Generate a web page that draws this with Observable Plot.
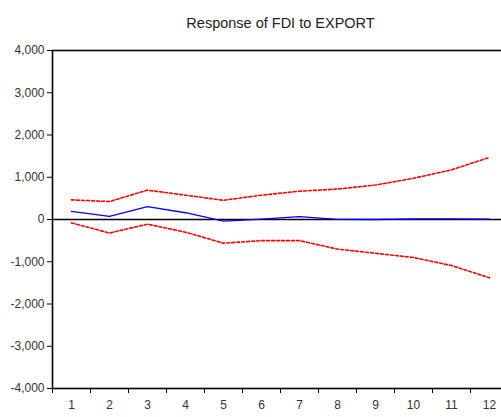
<!DOCTYPE html>
<html>
<head>
<meta charset="utf-8">
<script src="https://cdn.jsdelivr.net/npm/d3@7"></script>
<script src="https://cdn.jsdelivr.net/npm/@observablehq/plot@0.6"></script>
<style>
  html, body { margin: 0; padding: 0; background: #fff; overflow: hidden; }
  #chart svg { display: block; max-width: none !important; }
</style>
</head>
<body>
<div id="chart"></div>
<script>
// Impulse response of FDI to a shock in EXPORT, with ±2 S.E. bands
const periods = [1, 2, 3, 4, 5, 6, 7, 8, 9, 10, 11, 12];
const response = [190, 75, 305, 160, -40, 10, 70, 5, 0, 15, 15, 10];
const upperBand = [465, 425, 695, 575, 455, 575, 670, 720, 815, 975, 1175, 1470];
const lowerBand = [-80, -320, -110, -300, -560, -500, -500, -700, -800, -900, -1090, -1380];
const yTicks = [-4000, -3000, -2000, -1000, 0, 1000, 2000, 3000, 4000];
const titleText = "Response of FDI to EXPORT";

const rows = periods.map((p, i) => ({
  period: p,
  response: response[i],
  upper: upperBand[i],
  lower: lowerBand[i]
}));

const tickColor = "#333";
const font = "Liberation Sans, Arial, sans-serif";

const chart = Plot.plot({
  width: 509,
  height: 417,
  marginLeft: 52,
  marginRight: 1,
  marginTop: 50,
  marginBottom: 29,
  style: { fontFamily: font, fontSize: "12px", color: tickColor, background: "#fff" },
  x: { domain: [0.5, 12.5] },
  y: { domain: [-4000, 4000] },
  marks: [
    Plot.ruleY([0], { stroke: "#000", strokeWidth: 1.6 }),
    Plot.line(rows, { x: "period", y: "upper", stroke: "#ff0000", strokeWidth: 1.6, strokeDasharray: "3,2" }),
    Plot.line(rows, { x: "period", y: "lower", stroke: "#ff0000", strokeWidth: 1.6, strokeDasharray: "3,2" }),
    Plot.line(rows, { x: "period", y: "response", stroke: "#0000ff", strokeWidth: 1.3 }),
    Plot.frame({ stroke: "#000", strokeWidth: 1.6 }),
    Plot.axisY({
      ticks: yTicks,
      tickFormat: d => d.toLocaleString("en-US"),
      tickSize: 5,
      tickPadding: 3,
      stroke: "#000",
      label: null
    }),
    // tick marks sit on the period boundaries, labels centred on each period
    Plot.axisX({
      ticks: d3.range(0.5, 12, 1),
      tickFormat: () => "",
      tickSize: 5,
      stroke: "#000",
      label: null
    }),
    Plot.axisX({
      ticks: periods,
      tickFormat: d => String(d),
      tickSize: 0,
      tickPadding: 12,
      label: null
    }),
    Plot.text([titleText], {
      frameAnchor: "top",
      dy: -33,
      text: d => d,
      fontSize: 14.5,
      fill: "#222"
    })
  ]
});

document.getElementById("chart").append(chart);
</script>
</body>
</html>
